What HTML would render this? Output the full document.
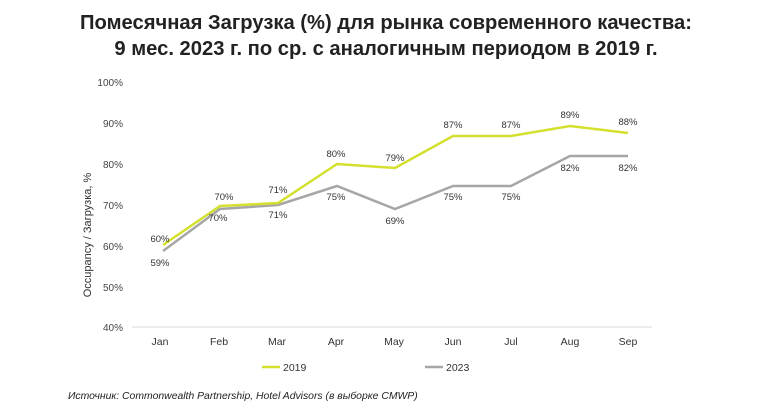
<!DOCTYPE html>
<html><head><meta charset="utf-8"><style>
body{margin:0;background:#fff;width:772px;height:411px;overflow:hidden;font-family:"Liberation Sans",Arial,sans-serif;}
</style></head><body>
<svg width="772" height="411" xmlns="http://www.w3.org/2000/svg" font-family="Liberation Sans, Arial, sans-serif">
<text x="386" y="29" text-anchor="middle" font-size="20.2" font-weight="bold" fill="#222">Помесячная Загрузка (%) для рынка современного качества:</text>
<text x="386" y="55" text-anchor="middle" font-size="20.2" font-weight="bold" fill="#222">9 мес. 2023 г. по ср. с аналогичным периодом в 2019 г.</text>
<g font-size="10" fill="#444" text-anchor="end">
<text x="123" y="86">100%</text><text x="123" y="127">90%</text><text x="123" y="168">80%</text><text x="123" y="209">70%</text><text x="123" y="250">60%</text><text x="123" y="291">50%</text><text x="123" y="331">40%</text>
</g>
<text transform="translate(91,235) rotate(-90)" text-anchor="middle" font-size="11" fill="#333">Occupancy / Загрузка, %</text>
<line x1="132" y1="327" x2="652" y2="327" stroke="#d9d9d9" stroke-width="1"/>
<g font-size="10.5" fill="#333" text-anchor="middle">
<text x="160" y="345">Jan</text><text x="219" y="345">Feb</text><text x="277" y="345">Mar</text><text x="336" y="345">Apr</text><text x="394" y="345">May</text><text x="453" y="345">Jun</text><text x="511" y="345">Jul</text><text x="570" y="345">Aug</text><text x="628" y="345">Sep</text>
</g>
<polyline fill="none" stroke="#a6a6a6" stroke-width="2.5" points="163,251 220,209 278,205 337,186 395,209 453,186 511,186 570,156 628,156"/>
<polyline fill="none" stroke="#d4e02e" stroke-width="2.5" points="163,245 220,206 278,203 337,164 395,168 453,136 511,136 570,126 628,133"/>
<g font-size="9.5" fill="#333" text-anchor="middle">
<text x="160" y="242">60%</text><text x="224" y="200">70%</text><text x="278" y="193">71%</text><text x="336" y="157">80%</text><text x="395" y="161">79%</text><text x="453" y="128">87%</text><text x="511" y="128">87%</text><text x="570" y="118">89%</text><text x="628" y="125">88%</text>
<text x="160" y="266">59%</text><text x="218" y="221">70%</text><text x="278" y="218">71%</text><text x="336" y="200">75%</text><text x="395" y="224">69%</text><text x="453" y="200">75%</text><text x="511" y="200">75%</text><text x="570" y="171">82%</text><text x="628" y="171">82%</text>
</g>
<line x1="262" y1="367" x2="280" y2="367" stroke="#d4e02e" stroke-width="2.5"/>
<text x="283" y="371" font-size="10.5" fill="#333">2019</text>
<line x1="425" y1="367" x2="443" y2="367" stroke="#a6a6a6" stroke-width="2.5"/>
<text x="446" y="371" font-size="10.5" fill="#333">2023</text>
<text x="68" y="399" font-size="10.4" font-style="italic" fill="#222">Источник: Commonwealth Partnership, Hotel Advisors (в выборке CMWP)</text>
</svg>
</body></html>
